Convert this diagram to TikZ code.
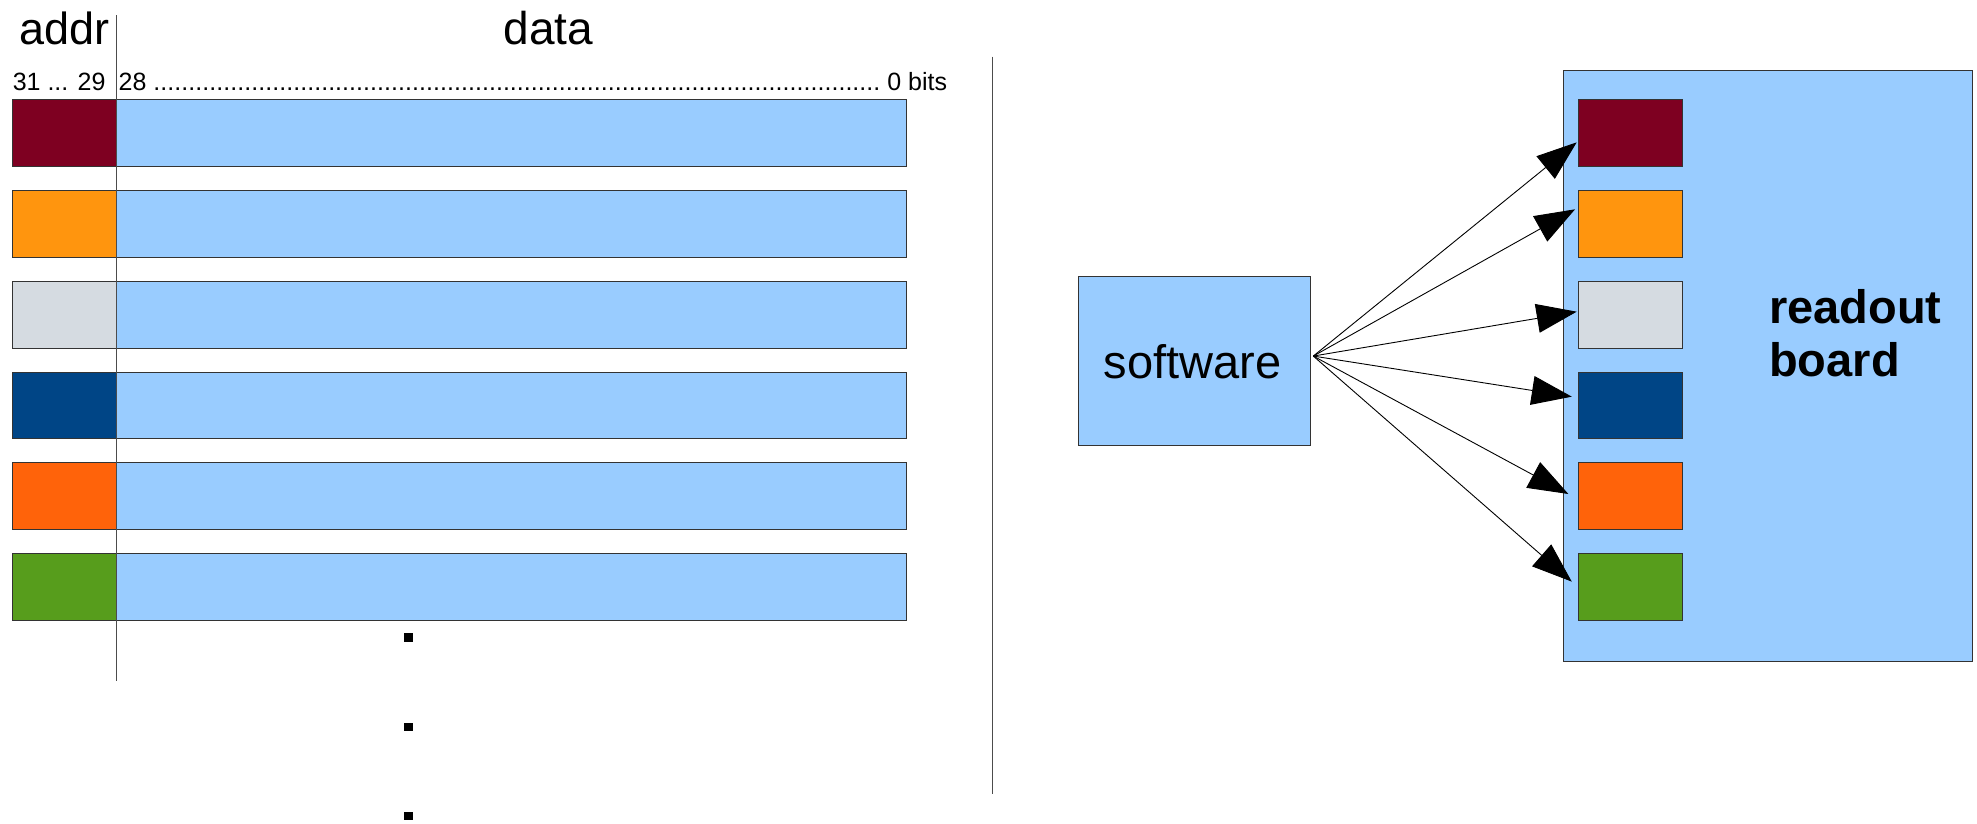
\documentclass[tikz,border=0pt]{standalone}
\usepackage{fontspec}
\setmainfont{Liberation Sans}
\usetikzlibrary{arrows.meta}
\definecolor{cRed}{HTML}{7E0021}
\definecolor{cOrange}{HTML}{FF950E}
\definecolor{cGray}{HTML}{D5DBE1}
\definecolor{cBlue}{HTML}{004586}
\definecolor{cOrRed}{HTML}{FF630A}
\definecolor{cGreen}{HTML}{579D1C}
\definecolor{cSky}{HTML}{99CCFF}
\definecolor{cLine}{HTML}{333333}
\tikzset{
  addrbox/.style={draw=cLine, line width=0.9pt, inner sep=0pt, outer sep=0pt,
    minimum width=103.4pt, minimum height=66.8pt},
  databox/.style={draw=cLine, line width=0.9pt, fill=cSky, inner sep=0pt, outer sep=0pt,
    minimum width=790.5pt, minimum height=66.8pt},
  sepline/.style={draw=black!70, line width=0.9pt},
  arr/.style={draw=black, line width=0.9pt, -{Triangle[length=40pt,width=29pt]}},
  dotsq/.style={rectangle, fill=black, inner sep=0pt, minimum size=8.5pt},
}
\begin{document}
\begin{tikzpicture}[x=1.2608pt,y=-1.2608pt]
\useasboundingbox (0,0) rectangle (1568,653);
% labels
\node[anchor=base west, inner sep=0pt, font=\fontsize{45}{50}\selectfont] (addr) at (15,35) {addr};
\node[anchor=base, inner sep=0pt, font=\fontsize{46}{50}\selectfont] (data) at (435,35) {data};
\node[anchor=base west, inner sep=0pt, font=\fontsize{25}{28}\selectfont] (hi) at (10,72) {31 ... 29};
\node[anchor=base west, inner sep=0pt, font=\fontsize{25}{28}\selectfont] (lo) at (94,72)
  {\hbox to 828pt{28 \xleaders\hbox{.}\hfill\ 0 bits}};
% rows
\foreach \c [count=\k from 0] in {cRed,cOrange,cGray,cBlue,cOrRed,cGreen}{
  \pgfmathsetmacro{\yc}{105.5+72*\k}
  \node[addrbox, fill=\c] (a\k) at (51,\yc) {};
  \node[databox] (d\k) at (405.5,\yc) {};
}
% addr/data divider
\coordinate (divtop) at (92,12);
\coordinate (divbot) at (92,540);
\draw[sepline] (divtop) -- (divbot);
% continuation dots
\node[dotsq] (dot1) at (324,505.5) {};
\node[dotsq] (dot2) at (324,576.5) {};
\node[dotsq] (dot3) at (324,647) {};
% separator
\coordinate (septop) at (787,45);
\coordinate (sepbot) at (787,630);
\draw[sepline] (septop) -- (sepbot);
% software
\node[draw=cLine, line width=0.9pt, fill=cSky, inner sep=0pt, minimum width=232pt, minimum height=169pt] (sw) at (947,286) {};
\node[anchor=base, inner sep=0pt, font=\fontsize{47}{50}\selectfont] (swt) at (946,300) {software};
% readout board
\node[draw=cLine, line width=0.9pt, fill=cSky, inner sep=0pt, minimum width=408.5pt, minimum height=591.3pt] (rb) at (1402,290.5) {};
\node[anchor=base west, inner sep=0pt, align=left, font=\fontsize{47}{53}\selectfont\bfseries] (rbt) at (1403,299) {readout\\board};
\foreach \c [count=\k from 0] in {cRed,cOrange,cGray,cBlue,cOrRed,cGreen}{
  \pgfmathsetmacro{\yc}{105.5+72*\k}
  \node[addrbox, fill=\c] (r\k) at (1293,\yc) {};
}
% arrows
\coordinate (src) at (1041.6,282.4);
\coordinate (t0) at (1250.5,112.9);
\coordinate (t1) at (1249.2,166);
\coordinate (t2) at (1250.5,247.2);
\coordinate (t3) at (1246.6,314.6);
\coordinate (t4) at (1243.9,391.8);
\coordinate (t5) at (1246.6,461.3);
\foreach \k in {0,...,5}{ \draw[arr] (src) -- (t\k); }
\end{tikzpicture}
\end{document}
